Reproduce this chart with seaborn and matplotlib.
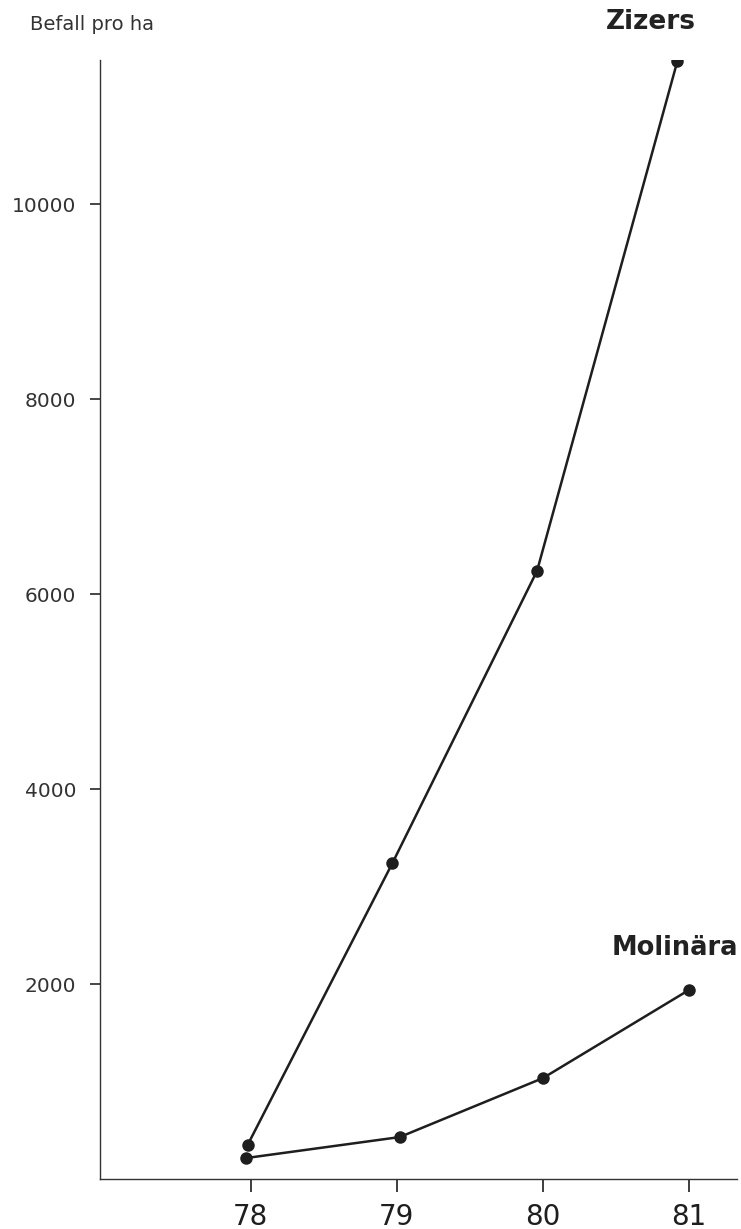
import seaborn as sns
import matplotlib.pyplot as plt
import pandas as pd

# Data
zizers_x = [77.98, 78.97, 79.96, 80.92]
zizers_y = [350, 3240, 6240, 11470]
molinara_x = [77.97, 79.02, 80.0, 81.0]
molinara_y = [215, 430, 1035, 1940]
year_ticks = [78, 79, 80, 81]
y_ticks = [2000, 4000, 6000, 8000, 10000]

df = pd.concat([
    pd.DataFrame({'Jahr': zizers_x, 'Befall': zizers_y, 'Ort': 'Zizers'}),
    pd.DataFrame({'Jahr': molinara_x, 'Befall': molinara_y, 'Ort': 'Molinära'}),
])

sns.set_style('ticks')
plt.rcParams['font.family'] = ['DejaVu Sans']

fig = plt.figure(figsize=(7.41, 12.29), dpi=100)
ax = fig.add_axes([0.135, 0.0407, 0.86, 0.9103])

sns.lineplot(data=df, x='Jahr', y='Befall', hue='Ort', sort=False,
             palette={'Zizers': '#1e1e1e', 'Molinära': '#1e1e1e'},
             marker='o', markersize=9, markeredgewidth=0, linewidth=1.8,
             legend=False, ax=ax)

ax.set_xlim(76.97, 81.33)
ax.set_ylim(0, 11480)
ax.set_xticks(year_ticks)
ax.set_xticklabels([str(t) for t in year_ticks], fontsize=20)
ax.set_yticks(y_ticks)
ax.set_yticklabels([str(t) for t in y_ticks], fontsize=14.5, color='#333333')
ax.tick_params(axis='x', length=9, width=1.2, pad=8, colors='#1e1e1e')
ax.tick_params(axis='y', length=7, width=1.2, pad=10)
ax.set_xlabel('')
ax.set_ylabel('')
sns.despine(ax=ax)
for s in ['left', 'bottom']:
    ax.spines[s].set_color('#333333')
    ax.spines[s].set_linewidth(1.0)

fig.text(30 / 741, 1 - 25 / 1229, 'Befall pro ha', fontsize=14,
         color='#333333', va='center', ha='left')
ax.text(651 / 741, 1 - 22 / 1229, 'Zizers', transform=fig.transFigure,
        fontsize=19, fontweight='bold', ha='center', va='center', color='#222222')
ax.text(675 / 741, 1 - 948 / 1229, 'Molinära', transform=fig.transFigure,
        fontsize=18.5, fontweight='bold', ha='center', va='center', color='#222222')

plt.savefig('out.png', dpi=100)
